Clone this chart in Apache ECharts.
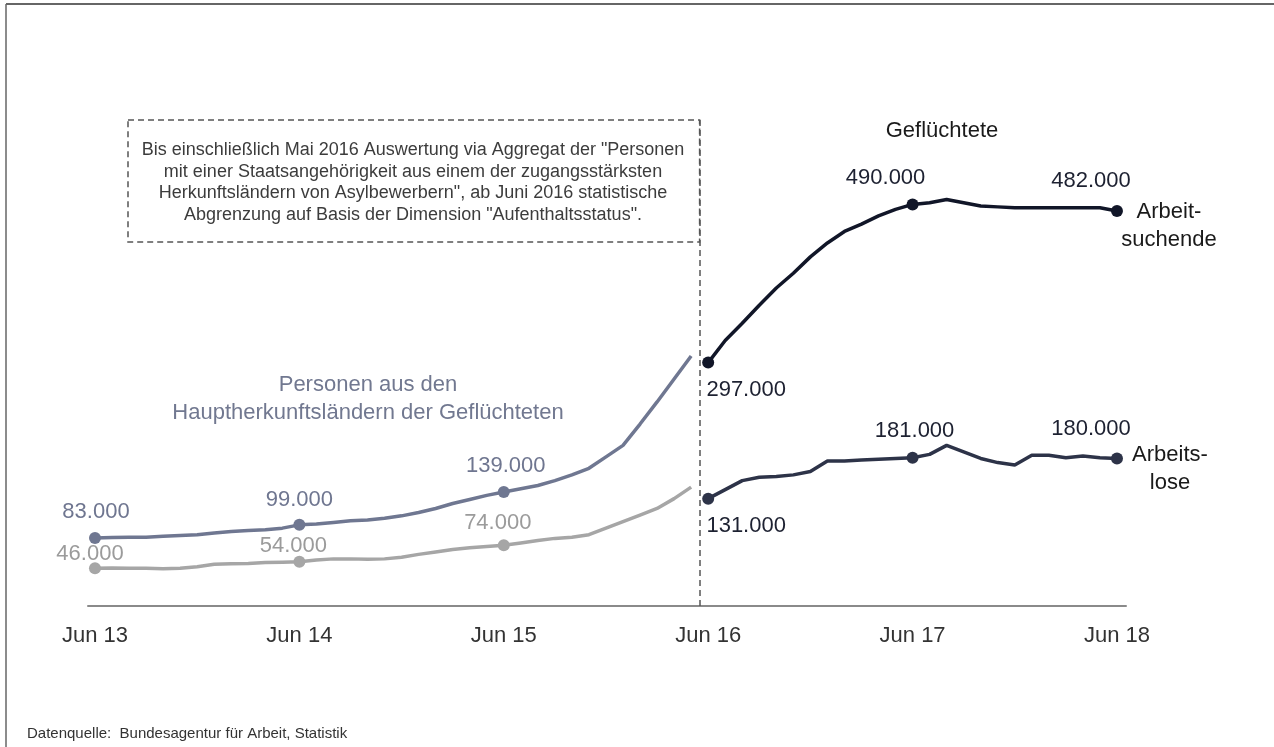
<!DOCTYPE html>
<html>
<head>
<meta charset="utf-8">
<script src="https://cdn.jsdelivr.net/npm/echarts@6/dist/echarts.min.js"></script>
<style>
  html, body { margin: 0; padding: 0; background: #fff; }
  #chart { width: 1274px; height: 747px; }
</style>
</head>
<body>
<div id="chart"></div>
<script>
// ---- Data (monthly, month index 0 = Jun 2013) ----
const tickLabels = ['Jun 13', 'Jun 14', 'Jun 15', 'Jun 16', 'Jun 17', 'Jun 18'];
const tickMonths = [0, 12, 24, 36, 48, 60];

// Personen aus den Hauptherkunftsländern (Jun 13 – Mai 16)
const oldSeekers = [83000, 83500, 84000, 84000, 85000, 86000, 87000, 89000, 91000, 92000, 93000, 95000,
  99000, 100000, 102000, 104000, 105000, 107000, 110000, 114000, 119000, 125000, 130000, 135000,
  139000, 143000, 147000, 153000, 160000, 168000, 182000, 196000, 222000, 249000, 277000, 305000];
const oldUnemployed = [46000, 46500, 46000, 46000, 45500, 46000, 48000, 51000, 51500, 52000, 53000, 53500,
  54000, 56000, 57500, 57500, 57000, 57500, 59500, 63000, 66000, 69000, 71000, 72500,
  74000, 77000, 80000, 82500, 84000, 87000, 95000, 103000, 111000, 119000, 131000, 145000];

// Geflüchtete (Jun 16 – Jun 18)
const newSeekers = [297000, 324000, 345000, 367000, 388000, 406000, 426000, 443000, 457000, 466000, 476000, 484000,
  490000, 492000, 496000, 492000, 488000, 487000, 486000, 486000, 486000, 486000, 486000, 486000, 482000];
const newUnemployed = [131000, 142000, 153000, 157000, 158000, 160000, 164000, 177000, 177000, 178000, 179000, 180000,
  181000, 185000, 196000, 188000, 180000, 175000, 172000, 184000, 184000, 181000, 183000, 181000, 180000];

const oldStart = 0;
const newStart = 36;
const breakMonth = 35.5;

// ---- Helpers ----
function fmt(v) {
  return String(Math.round(v)).replace(/\B(?=(\d{3})+(?!\d))/g, '.');
}
function buildData(values, start, offsets) {
  return values.map((v, i) => {
    const m = start + i;
    const k = tickMonths.indexOf(m);
    if (k >= 0 && offsets[m] !== undefined) {
      return {
        value: [m, v],
        symbolSize: 12,
        label: { show: true, offset: offsets[m] }
      };
    }
    return { value: [m, v], symbolSize: 0 };
  });
}

const FONT = "'Liberation Sans', Arial, sans-serif";

function lineSeries(name, values, start, color, labelColor, offsets, extra) {
  return Object.assign({
    name: name,
    type: 'line',
    data: buildData(values, start, offsets),
    showSymbol: true,
    symbol: 'circle',
    showAllSymbol: true,
    smooth: false,
    lineStyle: { color: color, width: 3.5 },
    itemStyle: { color: color },
    label: {
      show: false,
      position: 'inside',
      formatter: p => fmt(p.value[1]),
      color: labelColor,
      fontFamily: FONT,
      fontSize: 22
    },
    emphasis: { disabled: true },
    z: 3
  }, extra || {});
}

const chart = echarts.init(document.getElementById('chart'), null, { renderer: 'canvas' });

const option = {
  animation: false,
  backgroundColor: '#fff',
  grid: { left: 88, right: 148, top: 120, bottom: 141, containLabel: false },
  xAxis: {
    type: 'value',
    min: -0.41,
    max: 60.53,
    splitLine: { show: false },
    axisTick: { show: false },
    axisLine: { show: true, onZero: false, lineStyle: { color: '#8a8a8a', width: 2 } },
    axisLabel: {
      customValues: tickMonths,
      formatter: v => tickLabels[tickMonths.indexOf(Math.round(v))] || '',
      color: '#333',
      fontFamily: FONT,
      fontSize: 22,
      margin: 19
    }
  },
  yAxis: {
    type: 'value',
    min: 0,
    max: 593000,
    show: false,
    splitLine: { show: false }
  },
  series: [
    lineSeries('Arbeitsuchende (Hauptherkunftsländer)', oldSeekers, oldStart, '#6f7791', '#6f7690',
      { 0: [1, -26], 12: [0, -25], 24: [2, -26] },
      {
        markLine: {
          silent: true,
          symbol: ['none', 'none'],
          label: { show: false },
          lineStyle: { color: '#555', width: 1.5, type: [6, 4] },
          data: [{ xAxis: breakMonth }]
        }
      }),
    lineSeries('Arbeitslose (Hauptherkunftsländer)', oldUnemployed, oldStart, '#a6a6a6', '#9b9b9b',
      { 0: [-5, -14], 12: [-6, -16], 24: [-6, -22] }),
    lineSeries('Arbeitsuchende (Geflüchtete)', newSeekers, newStart, '#111628', '#1d2131',
      { 36: [38, 27], 48: [-27, -26], 60: [-26, -30] }),
    lineSeries('Arbeitslose (Geflüchtete)', newUnemployed, newStart, '#2d3348', '#1d2131',
      { 36: [38, 27], 48: [2, -27], 60: [-26, -30] })
  ],
  graphic: [
    { type: 'line', shape: { x1: 6, y1: 4, x2: 1274, y2: 4 }, style: { stroke: '#666', lineWidth: 2 }, silent: true },
    { type: 'line', shape: { x1: 6, y1: 4, x2: 6, y2: 747 }, style: { stroke: '#666', lineWidth: 1.5 }, silent: true },
    {
      type: 'rect', shape: { x: 128, y: 120, width: 571.6, height: 122 },
      style: { fill: 'none', stroke: '#555', lineWidth: 1.5, lineDash: [6, 4] }, silent: true
    },
    {
      type: 'text', x: 413, y: 182.5, silent: true,
      style: {
        text: 'Bis einschließlich Mai 2016 Auswertung via Aggregat der "Personen\nmit einer Staatsangehörigkeit aus einem der zugangsstärksten\nHerkunftsländern von Asylbewerbern", ab Juni 2016 statistische\nAbgrenzung auf Basis der Dimension "Aufenthaltsstatus".',
        fill: '#3c3c3c', font: "18px " + FONT, lineHeight: 21.5,
        align: 'center', verticalAlign: 'middle'
      }
    },
    {
      type: 'text', x: 368, y: 399, silent: true,
      style: {
        text: 'Personen aus den\nHauptherkunftsländern der Geflüchteten',
        fill: '#717890', font: "22px " + FONT, lineHeight: 28,
        align: 'center', verticalAlign: 'middle'
      }
    },
    {
      type: 'text', x: 942, y: 131, silent: true,
      style: { text: 'Geflüchtete', fill: '#1a1a1a', font: "22px " + FONT, align: 'center', verticalAlign: 'middle' }
    },
    {
      type: 'text', x: 1169, y: 226, silent: true,
      style: { text: 'Arbeit-\nsuchende', fill: '#1a1a1a', font: "22px " + FONT, lineHeight: 28, align: 'center', verticalAlign: 'middle' }
    },
    {
      type: 'text', x: 1170, y: 469, silent: true,
      style: { text: 'Arbeits-\nlose', fill: '#1a1a1a', font: "22px " + FONT, lineHeight: 28, align: 'center', verticalAlign: 'middle' }
    },
    {
      type: 'text', x: 27, y: 734, silent: true,
      style: { text: 'Datenquelle:  Bundesagentur für Arbeit, Statistik', fill: '#333', font: "15px " + FONT, align: 'left', verticalAlign: 'middle' }
    }
  ]
};

chart.setOption(option);
</script>
</body>
</html>
